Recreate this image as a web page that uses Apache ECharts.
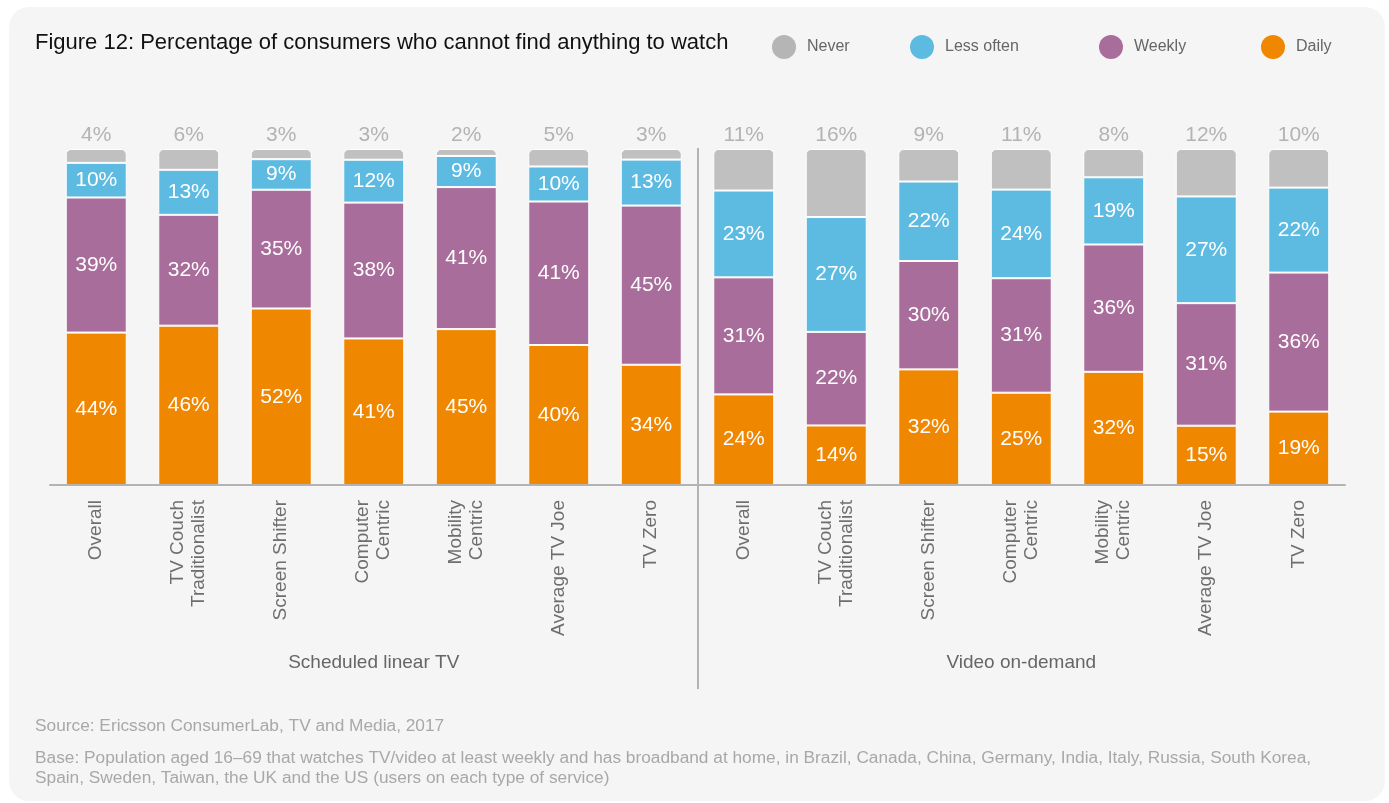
<!DOCTYPE html>
<html>
<head>
<meta charset="utf-8">
<script src="https://cdn.jsdelivr.net/npm/echarts@6/dist/echarts.min.js"></script>
<style>
html,body{margin:0;padding:0;background:#ffffff;}
#chart{width:1389px;height:803px;}
</style>
</head>
<body>
<div id="chart"></div>
<script>
// ---- data ----
var categories = [
  'Overall', 'TV Couch\nTraditionalist', 'Screen Shifter', 'Computer\nCentric', 'Mobility\nCentric', 'Average TV Joe', 'TV Zero',
  'Overall', 'TV Couch\nTraditionalist', 'Screen Shifter', 'Computer\nCentric', 'Mobility\nCentric', 'Average TV Joe', 'TV Zero'
];
var groups = ['Scheduled linear TV', 'Video on-demand'];
var seriesNames = ['Daily', 'Weekly', 'Less often', 'Never'];
var daily     = [44, 46, 52, 41, 45, 40, 34, 24, 14, 32, 25, 32, 15, 19];
var weekly    = [39, 32, 35, 38, 41, 41, 45, 31, 22, 30, 31, 36, 31, 36];
var lessOften = [10, 13,  9, 12,  9, 10, 13, 23, 27, 22, 24, 19, 27, 22];
var never     = [ 4,  6,  3,  3,  2,  5,  3, 11, 16,  9, 11,  8, 12, 10];
var titleText = 'Figure 12: Percentage of consumers who cannot find anything to watch';
var sourceText = 'Source: Ericsson ConsumerLab, TV and Media, 2017';
var baseText = 'Base: Population aged 16\u201369 that watches TV/video at least weekly and has broadband at home, in Brazil, Canada, China, Germany, India, Italy, Russia, South Korea,\nSpain, Sweden, Taiwan, the UK and the US (users on each type of service)';

// ---- style ----
var FONT = "'Liberation Sans', Arial, Helvetica, sans-serif";
var colors = {'Daily': '#f08700', 'Weekly': '#a86d9b', 'Less often': '#5dbbe2', 'Never': '#c0c0c0'};
var legendColors = {'Daily': '#f08700', 'Weekly': '#a86d9b', 'Less often': '#5dbbe2', 'Never': '#b5b5b5'};
var legendLefts = {'Never': 772, 'Less often': 910, 'Weekly': 1099, 'Daily': 1261};

var raw = [daily, weekly, lessOften, never];
var totals = daily.map(function (_, i) { return daily[i] + weekly[i] + lessOften[i] + never[i]; });

var series = raw.map(function (arr, si) {
  var name = seriesNames[si];
  var isNever = name === 'Never';
  return {
    name: name,
    type: 'bar',
    stack: 'all',
    barWidth: 61,
    data: arr.map(function (v, i) { return v / totals[i] * 100; }),
    itemStyle: {
      color: colors[name],
      borderColor: '#ffffff',
      borderWidth: 1,
      borderRadius: isNever ? [5, 5, 0, 0] : 0
    },
    label: {
      show: true,
      position: isNever ? 'top' : 'inside',
      distance: 3,
      color: isNever ? '#b3b3b3' : '#ffffff',
      fontSize: 21,
      fontFamily: FONT,
      formatter: function (p) { return raw[si][p.dataIndex] + '%'; }
    },
    emphasis: {disabled: true}
  };
});

var legends = ['Never', 'Less often', 'Weekly', 'Daily'].map(function (n) {
  return {
    data: [{name: n, itemStyle: {color: legendColors[n], borderWidth: 0}}],
    left: legendLefts[n],
    top: 35,
    padding: 0,
    icon: 'circle',
    itemWidth: 24,
    itemHeight: 24,
    itemStyle: {borderWidth: 0},
    selectedMode: false,
    formatter: '{t|{name}}',
    textStyle: {
      fontSize: 16, color: '#666666', fontFamily: FONT,
      rich: {t: {fontSize: 16, color: '#666666', fontFamily: FONT, padding: [0, 0, 0, 6]}}
    }
  };
});

var chart = echarts.init(document.getElementById('chart'), null, {renderer: 'canvas'});
var option = {
  animation: false,
  backgroundColor: 'transparent',
  title: {
    text: titleText,
    left: 35,
    top: 32,
    padding: 0,
    textStyle: {fontSize: 22, fontWeight: 'normal', color: '#111111', fontFamily: FONT}
  },
  legend: legends,
  grid: {left: 50, right: 44, top: 149, bottom: 318, containLabel: false},
  xAxis: [{
    type: 'category',
    data: categories,
    z: 10,
    axisLine: {show: true, lineStyle: {color: '#b3b3b3', width: 2}},
    axisTick: {show: false},
    axisLabel: {
      interval: 0, rotate: 90, margin: 15,
      fontSize: 19, lineHeight: 21, color: '#6e6e6e', fontFamily: FONT
    }
  }, {
    type: 'category',
    data: groups,
    position: 'bottom',
    axisLine: {show: false},
    axisTick: {show: false},
    axisLabel: {interval: 0, margin: 168, fontSize: 19, color: '#666666', fontFamily: FONT}
  }],
  yAxis: {type: 'value', min: 0, max: 100, show: false, splitLine: {show: false}},
  series: series,
  graphic: [
    {type: 'rect', z: -10, silent: true, shape: {x: 9, y: 7, width: 1376, height: 794, r: 20}, style: {fill: '#f5f5f5'}},
    {type: 'text', left: 35, top: 718, silent: true, style: {text: sourceText, fill: '#a8a8a8', fontSize: 17.3, fontFamily: FONT}},
    {type: 'text', left: 35, top: 748, silent: true, style: {text: baseText, fill: '#a8a8a8', fontSize: 17.3, lineHeight: 20, fontFamily: FONT}}
  ]
};
chart.setOption(option);

// vertical separator between the two groups, placed through the category axis
var xa = chart.convertToPixel({xAxisIndex: 0}, 6);
var xb = chart.convertToPixel({xAxisIndex: 0}, 7);
var sepX = Math.round((xa + xb) / 2);
var yTop = chart.convertToPixel({yAxisIndex: 0}, 100) - 1;
chart.setOption({
  graphic: option.graphic.concat([
    {type: 'line', z: 100, silent: true, shape: {x1: sepX, y1: yTop, x2: sepX, y2: 689}, style: {stroke: '#b3b3b3', lineWidth: 2}}
  ])
});
</script>
</body>
</html>
